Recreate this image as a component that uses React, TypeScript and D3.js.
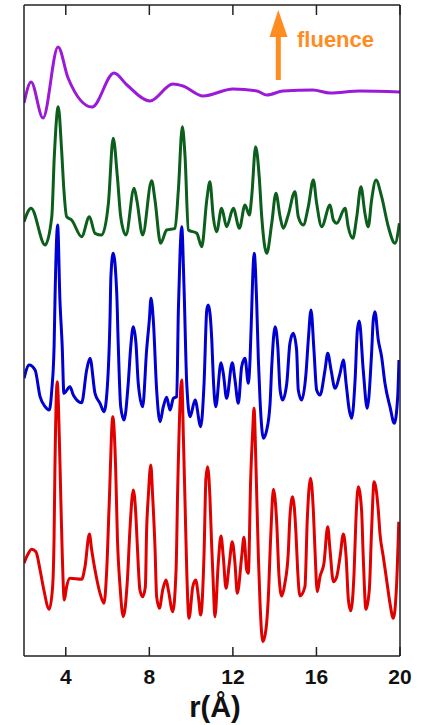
import React from "react";
import * as d3 from "d3";

// r (Å) / relative G(r) pairs, each curve relative to its own baseline
const purpleR = [2.0, 2.34, 2.91, 3.63, 4.11, 5.26, 6.31, 6.93, 8.03, 9.13, 9.61, 10.57, 12.0, 13.15, 13.63, 14.4, 15.83, 16.65, 18.08, 20.0];
const purpleG = [-1.2, 0.9, -2.7, 4.4, 1.3, -1.6, 1.8, 0.6, -1.0, 0.7, 0.5, -0.5, 0.2, 0.0, -0.4, 0.0, 0.1, -0.2, 0.0, -0.1];

const greenR = [2.0, 2.34, 3.01, 3.33, 3.45, 3.64, 3.8, 3.91, 4.04, 4.28, 4.76, 5.13, 5.4, 5.72, 6.04, 6.27, 6.47, 6.63, 6.88, 7.27, 7.4, 7.68, 8.11, 8.27, 8.54, 8.83, 9.23, 9.39, 9.58, 9.71, 9.87, 10.27, 10.51, 10.75, 10.9, 11.06, 11.22, 11.46, 11.7, 12.02, 12.31, 12.58, 12.79, 12.9, 13.09, 13.26, 13.38, 13.62, 13.86, 14.06, 14.26, 14.41, 14.65, 14.97, 15.13, 15.37, 15.61, 15.85, 16.01, 16.25, 16.65, 16.81, 16.97, 17.37, 17.52, 17.74, 17.93, 18.13, 18.32, 18.48, 18.64, 18.85, 19.12, 19.44, 19.76, 19.97];
const greenG = [0.43, 1.77, -1.9, 0.93, 6.93, 11.93, 7.6, 3.6, 0.93, 0.6, -1.07, 0.93, -0.73, -0.9, 2.27, 8.77, 4.93, 0.93, -0.9, 3.77, 2.6, -0.9, 4.53, 2.6, -1.73, -0.4, -0.23, 3.6, 9.93, 6.93, -0.4, -0.73, -2.07, 2.6, 4.43, 0.93, -0.57, 1.77, -0.07, 1.77, -0.23, 2.1, 1.1, 2.93, 7.93, 4.93, 0.93, -2.73, 0.27, 3.27, 0.93, -0.23, 1.1, 3.43, 0.93, 0.1, 1.93, 4.6, 2.27, -0.07, 2.1, 0.6, 0.27, 1.77, -0.07, -1.23, 0.93, 3.93, 1.27, -0.07, 2.6, 4.6, 2.93, -0.07, -1.73, 0.27];

const blueR = [2.0, 2.25, 2.53, 2.77, 3.01, 3.21, 3.33, 3.44, 3.49, 3.61, 3.72, 3.83, 3.91, 4.2, 4.36, 4.76, 5.0, 5.16, 5.4, 5.64, 5.83, 5.99, 6.12, 6.16, 6.27, 6.44, 6.51, 6.63, 6.79, 6.99, 7.11, 7.23, 7.36, 7.47, 7.68, 7.87, 8.0, 8.08, 8.19, 8.35, 8.51, 8.67, 8.83, 8.99, 9.15, 9.31, 9.39, 9.47, 9.55, 9.66, 9.79, 9.95, 10.19, 10.46, 10.62, 10.75, 10.82, 10.99, 11.06, 11.18, 11.43, 11.54, 11.7, 11.97, 12.1, 12.26, 12.42, 12.58, 12.74, 12.82, 12.9, 12.95, 13.02, 13.14, 13.22, 13.3, 13.46, 13.62, 13.78, 13.86, 14.02, 14.15, 14.26, 14.38, 14.58, 14.73, 14.89, 15.05, 15.13, 15.29, 15.5, 15.61, 15.74, 15.88, 16.01, 16.17, 16.41, 16.54, 16.7, 16.89, 17.13, 17.29, 17.42, 17.57, 17.69, 17.85, 17.96, 18.05, 18.24, 18.43, 18.64, 18.72, 18.8, 18.96, 19.12, 19.28, 19.52, 19.73, 19.89, 19.95];
const blueG = [-0.23, 1.1, 0.6, -2.07, -3.07, -3.4, -1.4, 2.93, 8.27, 15.1, 7.6, 2.93, -1.73, -1.07, -1.9, -2.67, 0.6, 1.77, -1.73, -2.73, -3.57, -1.07, 5.93, 9.93, 12.27, 8.27, 3.27, -3.07, -4.4, -0.73, 2.93, 4.93, 3.27, -0.73, -3.07, 2.6, 5.6, 7.77, 5.6, -1.4, -4.57, -3.07, -2.13, -3.4, -2.23, -2.07, 6.6, 12.27, 14.93, 8.93, -0.73, -4.07, -2.4, -5.07, -0.73, 6.6, 7.1, 3.6, -0.07, -3.07, 1.33, 0.27, -2.23, 1.33, -0.4, -2.73, 0.93, 1.77, -0.73, 1.6, 6.6, 9.93, 12.27, 7.27, 1.6, -2.4, -6.23, -5.4, -2.73, 0.93, 4.93, 2.93, -1.4, -2.4, -0.73, 3.27, 4.27, 2.6, -1.4, -2.4, 0.27, 3.6, 6.6, 2.6, -1.4, -1.9, 0.6, 2.27, 0.6, -1.23, 0.27, 1.6, -0.73, -3.4, -4.23, -0.4, 4.6, 5.5, 0.6, -3.23, 2.27, 5.6, 6.43, 3.6, 1.93, -0.73, -3.07, -4.73, -2.07, 1.6];

const redR = [2.0, 2.13, 2.37, 2.57, 2.77, 2.92, 3.21, 3.37, 3.44, 3.48, 3.59, 3.69, 3.76, 3.83, 3.93, 4.04, 4.2, 4.76, 4.92, 5.13, 5.24, 5.4, 5.64, 5.83, 5.96, 6.08, 6.25, 6.39, 6.47, 6.6, 6.75, 6.95, 7.07, 7.23, 7.35, 7.42, 7.55, 7.68, 7.81, 7.87, 7.95, 8.07, 8.16, 8.27, 8.35, 8.48, 8.64, 8.8, 8.91, 9.12, 9.28, 9.36, 9.55, 9.63, 9.71, 9.79, 9.9, 10.08, 10.22, 10.35, 10.46, 10.62, 10.71, 10.79, 10.9, 10.98, 11.06, 11.14, 11.3, 11.43, 11.54, 11.67, 11.83, 11.97, 12.1, 12.21, 12.42, 12.53, 12.66, 12.74, 12.85, 12.95, 13.01, 13.11, 13.22, 13.3, 13.43, 13.58, 13.69, 13.81, 13.94, 14.1, 14.21, 14.34, 14.49, 14.65, 14.73, 14.86, 15.02, 15.1, 15.21, 15.45, 15.56, 15.72, 15.85, 15.93, 16.04, 16.17, 16.36, 16.54, 16.65, 16.81, 16.97, 17.13, 17.29, 17.42, 17.53, 17.64, 17.8, 17.89, 18.0, 18.16, 18.24, 18.37, 18.53, 18.64, 18.76, 18.96, 19.04, 19.2, 19.36, 19.52, 19.68, 19.84, 19.94];
const redG = [1.27, 1.93, 2.67, 2.43, 0.6, -1.07, -3.33, -1.07, 3.93, 10.6, 19.43, 13.93, 7.93, 2.27, -2.4, -1.07, -0.23, -0.33, 0.93, 4.2, 2.6, 0.6, -1.73, -2.73, 0.6, 7.27, 15.93, 10.6, 3.93, -1.07, -4.07, -0.4, 4.6, 8.6, 6.27, 3.27, -1.4, -2.07, -1.07, 4.6, 7.93, 11.1, 7.93, 2.93, -2.07, -3.23, -1.4, -0.4, -1.4, -3.57, 0.6, 8.93, 19.6, 13.93, 7.27, 0.6, -4.23, -1.07, -0.4, -2.07, -3.9, 2.27, 9.8, 10.93, 7.93, 3.27, -0.73, -4.07, 1.27, 4.0, 1.93, -1.23, 1.27, 3.43, 1.27, -1.73, 1.93, 3.87, 0.6, 0.27, 9.6, 14.6, 16.77, 10.6, 1.93, -2.73, -6.57, -5.4, -2.4, 3.93, 8.67, 5.27, -0.07, -2.0, -0.73, 2.27, 5.93, 7.93, 4.27, 0.6, -2.0, -1.07, 5.6, 9.77, 6.6, 2.6, -1.57, -0.07, 1.27, 4.93, 2.6, -0.57, -0.07, 1.93, 4.2, 1.93, -2.4, -3.47, 0.27, 5.6, 8.93, 6.6, 1.93, -3.33, -1.4, 4.6, 9.43, 6.6, 4.27, 1.93, -0.4, -2.73, -4.23, -0.73, 5.43];

const series = [
  { name: "red", r: redR, g: redG, offset: 8, color: "#e00000" },
  { name: "blue", r: blueR, g: blueG, offset: 28, color: "#0000d2" },
  { name: "green", r: greenR, g: greenG, offset: 43, color: "#0b5e1c" },
  { name: "purple", r: purpleR, g: purpleG, offset: 56.5, color: "#9b19d8" },
];

const xTicks = [4, 8, 12, 16, 20];

const W = 423;
const H = 725;
const margin = { left: 24, right: 23, top: 5, bottom: 69 };

export default function App() {
  const x = d3.scaleLinear().domain([2, 20]).range([margin.left, W - margin.right]);
  const y = d3.scaleLinear().domain([0, 65.1]).range([H - margin.bottom, margin.top]);

  const line = d3
    .line<[number, number]>()
    .x((d) => x(d[0]))
    .y((d) => y(d[1]))
    .curve(d3.curveMonotoneX);

  const x0 = x(2);
  const x1 = x(20);
  const yb = y(0);
  const yt = y(65.1);

  return (
    <svg width={W} height={H} style={{ position: "absolute", left: 0, top: 0 }}>
      <defs>
        <clipPath id="plot">
          <rect x={x0} y={yt} width={x1 - x0} height={yb - yt} />
        </clipPath>
      </defs>
      <rect width={W} height={H} fill="#fff" />

      <g clipPath="url(#plot)">
        {series.map((s) => (
          <path
            key={s.name}
            d={line(s.r.map((r, i) => [r, s.g[i] + s.offset]))!}
            fill="none"
            stroke={s.color}
            strokeWidth={3}
            strokeLinejoin="round"
          />
        ))}
      </g>

      {/* frame */}
      <g stroke="#222" strokeWidth={1.5} fill="none">
        <line x1={x0} y1={yt} x2={x1} y2={yt} />
        <line x1={x0} y1={yb} x2={x1} y2={yb} />
        <line x1={x0} y1={yt} x2={x0} y2={yb} />
        <line x1={x1} y1={yt} x2={x1} y2={yb} />
        {xTicks.map((t) => (
          <g key={t}>
            <line x1={x(t)} y1={yb} x2={x(t)} y2={yb - 9} />
            <line x1={x(t)} y1={yt} x2={x(t)} y2={yt + 10} />
          </g>
        ))}
      </g>

      <g fontFamily="'Liberation Sans', Arial, sans-serif" fontWeight="bold" fill="#111">
        {xTicks.map((t) => (
          <text key={t} x={x(t)} y={684} fontSize={21} textAnchor="middle">
            {t}
          </text>
        ))}
        <text x={215} y={717} fontSize={29} textAnchor="middle">
          r(Å)
        </text>
      </g>

      {/* fluence arrow */}
      <line x1={278.3} y1={80} x2={278.3} y2={34} stroke="#ff8c1e" strokeWidth={5} />
      <path d="M278.3,10 L287.5,37 L269.5,37 Z" fill="#ff8c1e" />
      <text
        x={297}
        y={47}
        fontSize={22}
        fontWeight="bold"
        fontFamily="'Liberation Sans', Arial, sans-serif"
        fill="#ff8c1e"
      >
        fluence
      </text>
    </svg>
  );
}
